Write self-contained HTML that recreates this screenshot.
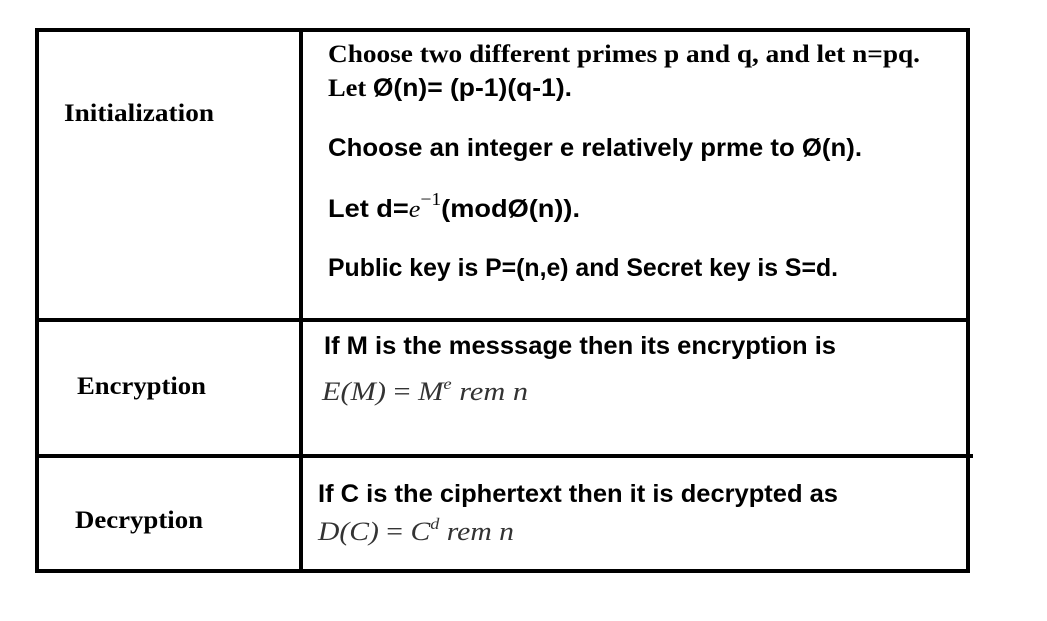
<!DOCTYPE html>
<html><head><meta charset="utf-8"><style>
html,body{margin:0;padding:0;background:#fff;width:1047px;height:621px;overflow:hidden}
svg{display:block}
.s{font-family:"Liberation Serif",serif;font-weight:bold;font-size:25px;fill:#000}
.a{font-family:"Liberation Sans",sans-serif;font-weight:bold;font-size:25px;fill:#000}
.m{font-family:"Liberation Serif",serif;font-style:italic;font-size:26px;fill:#333}
</style></head><body>
<svg width="1047" height="621" xmlns="http://www.w3.org/2000/svg">
<g fill="#000">
<rect x="35" y="28" width="935" height="4"/>
<rect x="35" y="28" width="4" height="544"/>
<rect x="966" y="28" width="4" height="544"/>
<rect x="35" y="569" width="935" height="4"/>
<rect x="299" y="28" width="4" height="544"/>
<rect x="35" y="318" width="935" height="4"/>
<rect x="35" y="454" width="938" height="4"/>
</g>
<text class="s" x="64" y="121" textLength="150" lengthAdjust="spacingAndGlyphs">Initialization</text>
<text class="s" x="77" y="394" textLength="129" lengthAdjust="spacingAndGlyphs">Encryption</text>
<text class="s" x="75" y="528" textLength="128" lengthAdjust="spacingAndGlyphs">Decryption</text>

<text class="s" x="328" y="62" textLength="592" lengthAdjust="spacingAndGlyphs">Choose two different primes p and q, and let n=pq.</text>
<text x="328" y="96" textLength="244" lengthAdjust="spacingAndGlyphs"><tspan class="s">Let </tspan><tspan class="a">Ø(n)= (p-1)(q-1).</tspan></text>
<text class="a" x="328" y="156" textLength="534" lengthAdjust="spacingAndGlyphs">Choose an integer e relatively prme to Ø(n).</text>
<text class="a" x="328" y="217" textLength="252" lengthAdjust="spacingAndGlyphs">Let d=<tspan font-family="Liberation Serif" font-style="italic" font-weight="normal" font-size="24">e</tspan><tspan font-family="Liberation Serif" font-size="18" dy="-12" font-weight="normal">−1</tspan><tspan dy="12">(modØ(n)).</tspan></text>
<text class="a" x="328" y="276" textLength="510" lengthAdjust="spacingAndGlyphs">Public key is P=(n,e) and Secret key is S=d.</text>

<text class="a" x="324" y="354" textLength="512" lengthAdjust="spacingAndGlyphs">If M is the messsage then its encryption is</text>
<text class="m" x="322" y="400" textLength="206" lengthAdjust="spacingAndGlyphs">E(M) <tspan font-style="normal">=</tspan> M<tspan font-size="16" dy="-11">e</tspan><tspan dy="11"> rem n</tspan></text>
<text class="a" x="318" y="502" textLength="520" lengthAdjust="spacingAndGlyphs">If C is the ciphertext then it is decrypted as</text>
<text class="m" x="318" y="540" textLength="196" lengthAdjust="spacingAndGlyphs">D(C) <tspan font-style="normal">=</tspan> C<tspan font-size="16" dy="-11">d</tspan><tspan dy="11"> rem n</tspan></text>
</svg>
</body></html>
